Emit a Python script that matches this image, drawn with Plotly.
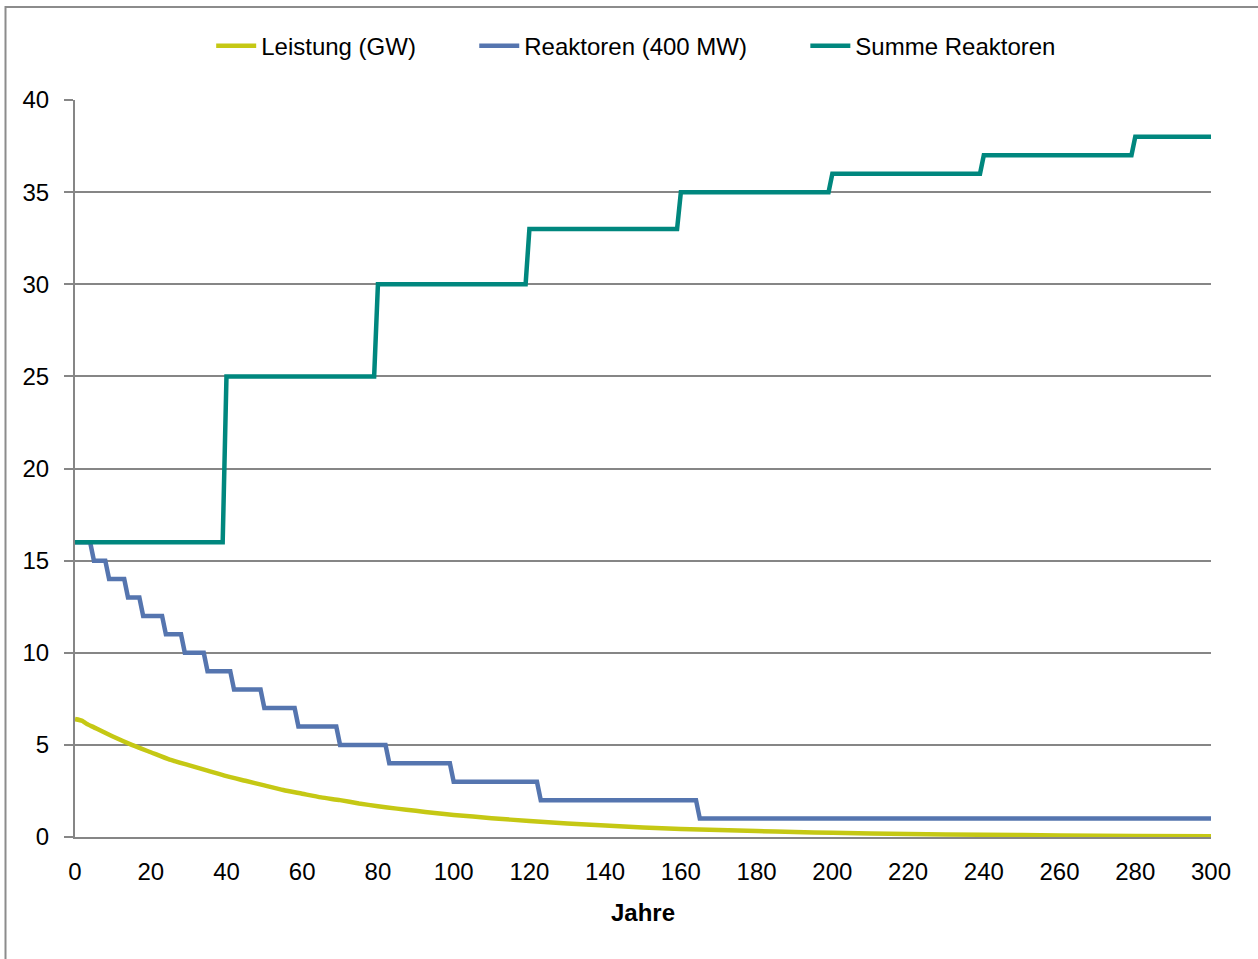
import plotly.graph_objects as go

# ---- data ----
years_leistung = [0, 2, 3, 5, 10, 15, 20, 25, 30, 35, 40, 45, 50, 55, 60, 65, 70, 75, 80, 85, 90, 95,
                  100, 110, 120, 130, 140, 150, 160, 170, 180, 190, 200, 220, 240, 260, 280, 300]
leistung_gw = [6.4, 6.3, 6.15, 5.95, 5.45, 5.0, 4.6, 4.2, 3.9, 3.6, 3.3, 3.05, 2.8, 2.55, 2.35, 2.15,
               2.0, 1.82, 1.67, 1.54, 1.42, 1.3, 1.2, 1.02, 0.87, 0.73, 0.62, 0.52, 0.44, 0.38, 0.32,
               0.27, 0.23, 0.16, 0.12, 0.085, 0.06, 0.045]

years_reaktoren = [0, 4, 5, 8, 9, 13, 14, 17, 18, 23, 24, 28, 29, 34, 35, 41, 42, 49, 50, 58, 59,
                   69, 70, 82, 83, 99, 100, 122, 123, 164, 165, 300]
reaktoren = [16, 16, 15, 15, 14, 14, 13, 13, 12, 12, 11, 11, 10, 10, 9, 9, 8, 8, 7, 7, 6,
             6, 5, 5, 4, 4, 3, 3, 2, 2, 1, 1]

years_summe = [0, 39, 40, 79, 80, 119, 120, 159, 160, 199, 200, 239, 240, 279, 280, 300]
summe_reaktoren = [16, 16, 25, 25, 30, 30, 33, 33, 35, 35, 36, 36, 37, 37, 38, 38]

series_names = ["Leistung (GW)", "Reaktoren (400 MW)", "Summe Reaktoren"]
x_ticks = list(range(0, 301, 20))
y_ticks = list(range(0, 41, 5))

FONT = "Liberation Sans, Arial, sans-serif"
PAD = "\u00a0" * 8

fig = go.Figure()
fig.add_trace(go.Scatter(x=years_leistung, y=leistung_gw, mode="lines", name=series_names[0] + PAD,
                         line=dict(color="#C5C814", width=4.5, shape="spline", smoothing=0.6)))
fig.add_trace(go.Scatter(x=years_reaktoren, y=reaktoren, mode="lines", name=series_names[1] + PAD,
                         line=dict(color="#5575AF", width=4.5)))
fig.add_trace(go.Scatter(x=years_summe, y=summe_reaktoren, mode="lines", name=series_names[2],
                         line=dict(color="#00877E", width=4.5)))

fig.update_layout(
    width=1258, height=959,
    margin=dict(l=75, r=47, t=100, b=122),
    paper_bgcolor="white", plot_bgcolor="white",
    font=dict(family=FONT, size=24, color="#000000"),
    showlegend=True,
    legend=dict(orientation="h", x=0.494, xanchor="center", y=1.073, yanchor="middle",
                font=dict(size=24), itemwidth=40, bgcolor="rgba(0,0,0,0)"),
    xaxis=dict(range=[0, 300], tickvals=x_ticks, ticks="", showgrid=False,
               showline=True, linecolor="#868686", linewidth=2, zeroline=False,
               ticklabelstandoff=12,
               title=dict(text="<b>Jahre</b>", font=dict(size=24), standoff=20)),
    yaxis=dict(range=[0, 40], tickvals=y_ticks, ticks="outside", ticklen=9, tickwidth=2,
               tickcolor="#868686", showgrid=True, gridcolor="#868686", gridwidth=2,
               showline=True, linecolor="#868686", linewidth=2, zeroline=False,
               ticklabelstandoff=10),
    shapes=[dict(type="rect", xref="paper", yref="paper",
                 x0=(5.5 - 75) / 1136, x1=1.06, y0=-0.2, y1=(837 - 7) / 737,
                 line=dict(color="#8C8C8C", width=2), fillcolor="rgba(0,0,0,0)", layer="below")],
)

fig.write_html("out.html", config={"displayModeBar": False},
               post_script="document.body.style.margin='0';")
